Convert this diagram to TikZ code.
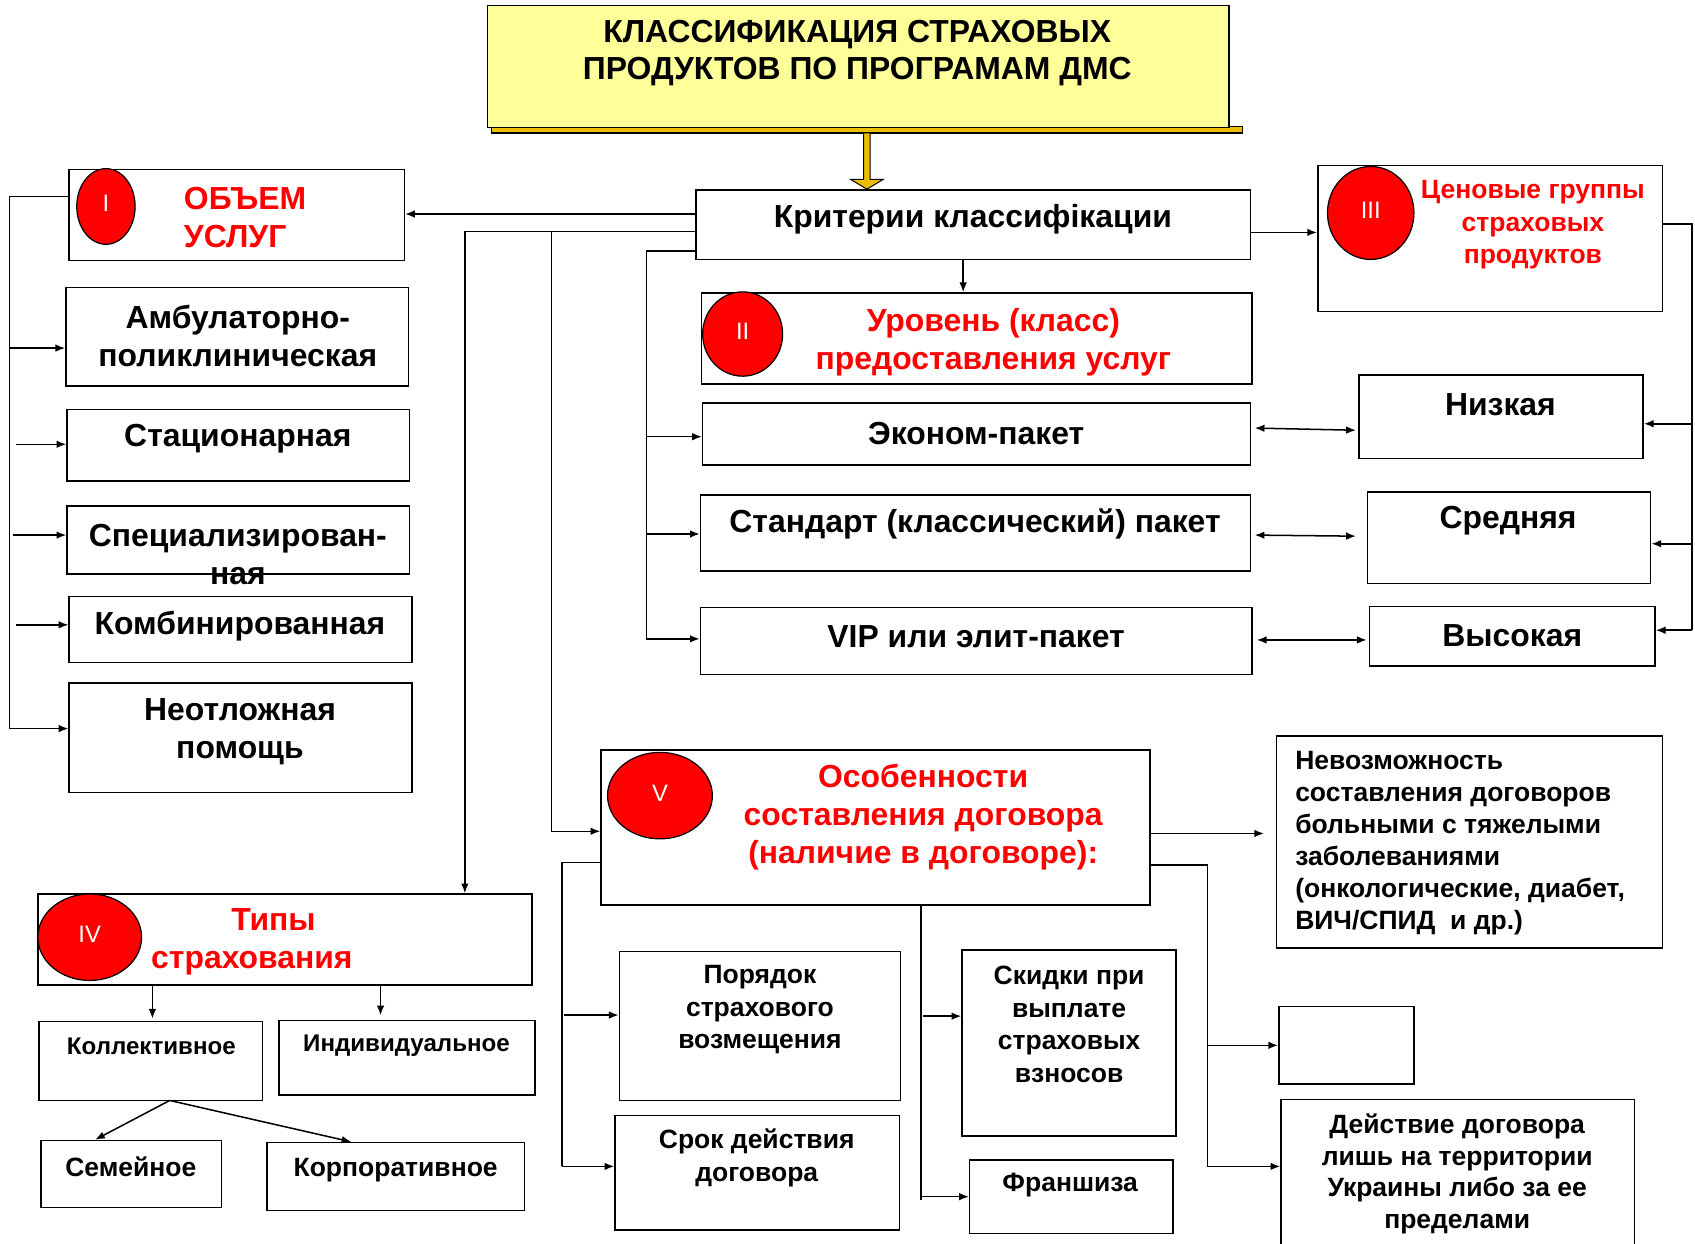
\documentclass[tikz,border=0pt]{standalone}
\usepackage{fontspec}
\setmainfont{Liberation Sans}
\usetikzlibrary{arrows.meta,shapes.geometric,positioning}
\definecolor{ZheltyFon}{RGB}{255,255,153}
\definecolor{ZolotoStr}{RGB}{235,190,0}
\definecolor{KrasnyKrug}{RGB}{255,0,0}
\newcommand{\rimnum}[1]{\raisebox{5pt}{#1}}
\tikzset{
  box/.style={draw,line width=1.4pt,inner sep=0pt},
  badge/.style={ellipse,draw,line width=1.1pt,fill=KrasnyKrug,text=white,
    font=\fontsize{22}{22}\selectfont,inner sep=0pt},
  txt/.style={font=\bfseries\fontsize{29.5}{35}\selectfont,align=center,inner sep=0pt},
  redtxt/.style={txt,text=KrasnyKrug},
  small/.style={font=\bfseries\fontsize{24.5}{30}\selectfont,align=center,inner sep=0pt},
  wire/.style={line width=1.4pt},
  link/.style={wire,-{Latex[length=9pt,width=7pt]}},
  twolink/.style={wire,{Latex[length=9pt,width=7pt]}-{Latex[length=9pt,width=7pt]}},
}
\begin{document}
\begin{tikzpicture}[x=1pt,y=-1pt]
  \useasboundingbox[fill=white] (0,0) rectangle (1568,1150);
  % title
  \draw[line width=1pt,fill=ZolotoStr] (455,117) rectangle (1149,123);
  \node[box,fill=ZheltyFon,minimum width=686pt,minimum height=113pt] (title) at (794,61.5) {};
  \node[txt] (title-t) at (793,49) {КЛАССИФИКАЦИЯ СТРАХОВЫХ\\ПРОДУКТОВ ПО ПРОГРАМАМ ДМС};
  \coordinate (tarr) at (799,123);
  \draw[line width=0.9pt,fill=ZolotoStr] (tarr) -- ++(0,43) -- ++(-12,0) -- ++(15,9)
    -- ++(15,-9) -- ++(-12,0) -- ++(0,-43) -- cycle;
  % criteria
  \node[box,minimum width=513pt,minimum height=64pt] (krit) at (900.5,208) {};
  \node[txt] (krit-t) at (900,203) {Критерии классифікации};
  % group I
  \node[box,minimum width=310pt,minimum height=84pt] (boxI) at (219,199) {};
  \node[badge,minimum width=54pt,minimum height=70pt] (e1) at (98,191) {\rimnum{I}};
  \node[redtxt,align=left,anchor=west] (boxI-t) at (170,201) {ОБЪЕМ\\УСЛУГ};
  \node[box,minimum width=317pt,minimum height=91pt] (amb) at (219.5,311.5) {};
  \node[txt] (amb-t) at (220,311) {Амбулаторно-\\поликлиническая};
  \node[box,minimum width=317pt,minimum height=66pt] (stac) at (220.5,412) {};
  \node[txt] (stac-t) at (220,406) {Стационарная};
  \node[box,minimum width=317pt,minimum height=63pt] (spec) at (220.5,499.5) {};
  \node[txt] (spec-t) at (220,513) {Специализирован-\\ная};
  \node[box,minimum width=317pt,minimum height=61pt] (komb) at (222.5,582.5) {};
  \node[txt] (komb-t) at (222,579) {Комбинированная};
  \node[box,minimum width=317pt,minimum height=101pt] (neotl) at (222.5,682.5) {};
  \node[txt] (neotl-t) at (222,676.5) {Неотложная\\помощь};
  % group II
  \node[box,minimum width=509pt,minimum height=84pt] (boxII) at (903.5,313) {};
  \node[badge,minimum width=74pt,minimum height=78pt] (e2) at (687,309) {\rimnum{II}};
  \node[redtxt] (boxII-t) at (919,316.5) {Уровень (класс)\\предоставления услуг};
  \node[box,minimum width=507pt,minimum height=57pt] (ekon) at (903.5,401.5) {};
  \node[txt] (ekon-t) at (903,401) {Эконом-пакет};
  \node[box,minimum width=509pt,minimum height=70pt] (stand) at (902.5,493) {};
  \node[txt] (stand-t) at (902,485) {Стандарт (классический) пакет};
  \node[box,minimum width=510pt,minimum height=62pt] (vip) at (903,593) {};
  \node[txt] (vip-t) at (903,589) {VIP или элит-пакет};
  % group III
  \node[box,minimum width=319pt,minimum height=135pt] (boxIII) at (1378.5,220.5) {};
  \node[badge,minimum width=80pt,minimum height=86pt] (e3) at (1268,197) {\rimnum{III}};
  \node[redtxt,font=\bfseries\fontsize{24.5}{30}\selectfont] (boxIII-t) at (1418,208) {Ценовые группы\\страховых\\продуктов};
  \node[box,minimum width=263pt,minimum height=77pt] (nizk) at (1388.5,385.5) {};
  \node[txt] (nizk-t) at (1388,374) {Низкая};
  \node[box,minimum width=262pt,minimum height=85pt] (sred) at (1396,497.5) {};
  \node[txt] (sred-t) at (1395,482) {Средняя};
  \node[box,minimum width=264pt,minimum height=55pt] (vys) at (1399,588.5) {};
  \node[txt] (vys-t) at (1399,588) {Высокая};
  % group IV
  \node[box,minimum width=457pt,minimum height=84pt] (boxIV) at (263.5,869) {};
  \node[badge,minimum width=96pt,minimum height=80pt] (e4) at (83,867) {\rimnum{IV}};
  \node[redtxt] (boxIV-t) at (233,871.5) {\hspace*{40pt}Типы\\страхования};
  \node[box,minimum width=207pt,minimum height=73pt] (kollekt) at (139.5,981.5) {};
  \node[small,font=\bfseries\fontsize{22.3}{28}\selectfont] (kollekt-t) at (140,968) {Коллективное};
  \node[box,minimum width=237pt,minimum height=69pt] (indiv) at (376.5,978.5) {};
  \node[small,font=\bfseries\fontsize{22.3}{28}\selectfont] (indiv-t) at (376,967) {Индивидуальное};
  \node[box,minimum width=167pt,minimum height=62pt] (semei) at (121.5,1086) {};
  \node[small] (semei-t) at (121,1079) {Семейное};
  \node[box,minimum width=238pt,minimum height=63pt] (korp) at (366,1088.5) {};
  \node[small] (korp-t) at (366,1082) {Корпоративное};
  % group V
  \node[box,minimum width=508pt,minimum height=143pt] (boxV) at (810,765.5) {};
  \node[badge,minimum width=97pt,minimum height=80pt] (e5) at (610.5,736) {\rimnum{V}};
  \node[redtxt] (boxV-t) at (854,756) {Особенности\\составления договора\\(наличие в договоре):};
  \node[box,minimum width=260pt,minimum height=138pt] (poryad) at (703,949) {};
  \node[small] (poryad-t) at (703,934) {Порядок\\страхового\\возмещения};
  \node[box,minimum width=263pt,minimum height=106pt] (srok) at (700.5,1085) {};
  \node[small] (srok-t) at (700,1071) {Срок действия\\договора};
  \node[box,minimum width=198pt,minimum height=172pt] (skid) at (989,965) {};
  \node[small] (skid-t) at (989,947.5) {Скидки при\\выплате\\страховых\\взносов};
  \node[box,minimum width=188pt,minimum height=68pt] (fran) at (991,1107) {};
  \node[small] (fran-t) at (990,1096) {Франшиза};
  \node[box,minimum width=357pt,minimum height=196pt] (nevozm) at (1359.5,779) {};
  \node[small,align=left,anchor=west,font=\bfseries\fontsize{24.5}{29.6}\selectfont] (nevozm-t) at (1198,780)
    {Невозможность\\составления договоров\\больными с тяжелыми\\заболеваниями\\(онкологические, диабет,\\ВИЧ/СПИД\ \ и др.)};
  \node[box,minimum width=125pt,minimum height=72pt] (pusto) at (1245.5,967) {};
  \node[box,minimum width=327pt,minimum height=140pt] (deistv) at (1348.5,1087) {};
  \node[small,font=\bfseries\fontsize{24.5}{29.3}\selectfont] (deistv-t) at (1348,1086) {Действие договора\\лишь на территории\\Украины либо за ее\\пределами};
  % connectors from criteria
  \draw[link] (krit.west |- 0,198) -- (boxI.east |- 0,198);
  \draw[link] (krit.west |- 0,214) -| (boxIV.north -| 430,0);
  \draw[link] (510,214) |- (boxV.west |- 0,769);
  \draw[link] (krit.south -| 891,0) -- (boxII.north -| 891,0);
  \draw[link] (krit.east |- 0,215) -- (boxIII.west |- 0,215);
  \draw[wire] (krit.west |- 0,232) -| (598,592);
  \foreach \b/\y in {ekon/404,stand/494,vip/591}
    \draw[link] (598,\y) -- (\b.west |- 0,\y);
  % group I branches
  \draw[wire] (boxI.west |- 0,182) -| (9,674);
  \foreach \b/\x/\y in {amb/9/322,stac/15/411,spec/12/495,komb/15/578,neotl/9/674}
    \draw[link] (\x,\y) -- (\b.west |- 0,\y);
  % group III branches
  \draw[wire] (boxIII.east |- 0,207) -| (1565,583);
  \foreach \b/\y in {nizk/392,sred/503,vys/583}
    \draw[link] (1565,\y) -- (\b.east |- 0,\y);
  \draw[twolink] ([xshift=3pt]ekon.east |- 0,396) -- ([xshift=-2pt]nizk.west |- 0,398);
  \draw[twolink] ([xshift=3pt]stand.east |- 0,495) -- ([xshift=-10pt]sred.west |- 0,496);
  \draw[twolink] ([xshift=4pt]vip.east |- 0,592) -- ([xshift=-2pt]vys.west |- 0,592);
  % group IV branches
  \draw[link] (boxIV.south -| 141,0) -- ([yshift=2pt]kollekt.north -| 141,0);
  \draw[link] (boxIV.south -| 352,0) -- ([yshift=4pt]indiv.north -| 352,0);
  \coordinate (kollekt-b) at (157,1018);
  \draw[link] (kollekt-b) -- (semei.north -| 88,0);
  \draw[link] (kollekt-b) -- (korp.north -| 325,0);
  % group V branches
  \draw[wire] (boxV.west |- 0,798) -| (520,1079);
  \draw[link] (522,939) -- (poryad.west |- 0,939);
  \draw[link] (520,1079) -- (srok.west |- 0,1079);
  \draw[wire] (boxV.south -| 852,0) -- (852,1110);
  \draw[link] (854,940) -- (skid.west |- 0,940);
  \draw[link] (852,1107) -- (fran.west |- 0,1107);
  \draw[link] (boxV.east |- 0,771) -- ([xshift=-11pt]nevozm.west |- 0,771);
  \draw[wire] (boxV.east |- 0,800) -| (1117,1079);
  \draw[link] (1117,967) -- (pusto.west |- 0,967);
  \draw[link] (1117,1079) -- (deistv.west |- 0,1079);
\end{tikzpicture}
\end{document}
